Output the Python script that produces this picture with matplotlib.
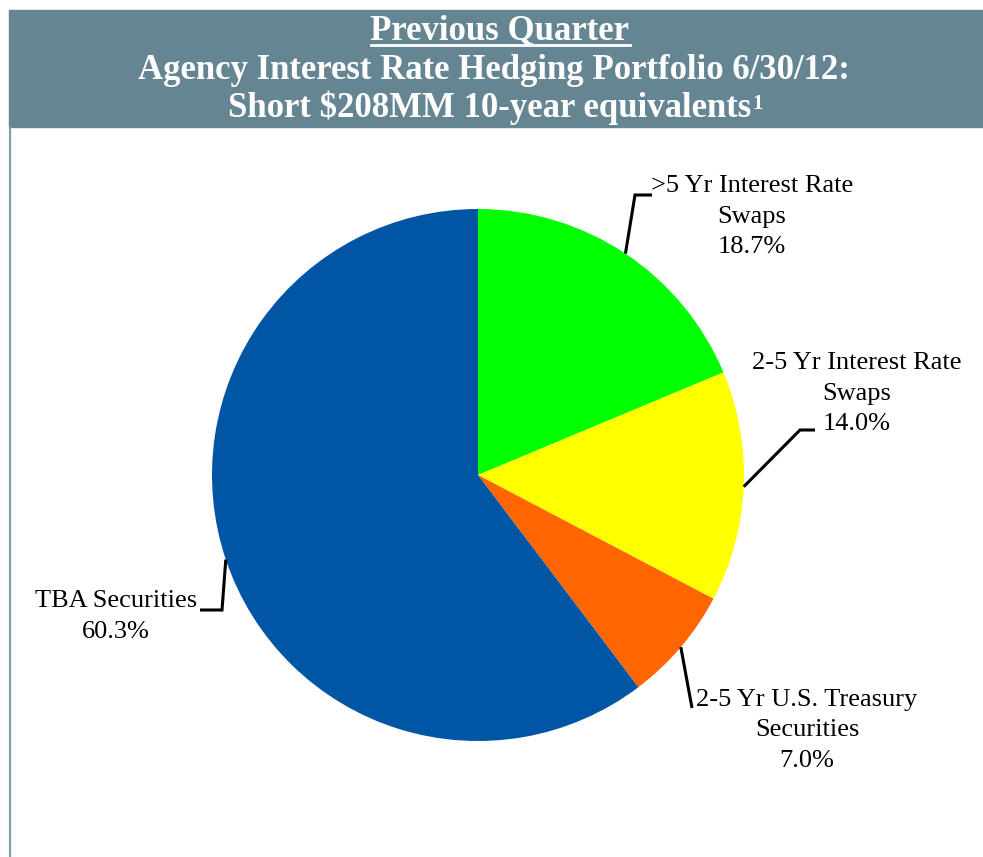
import matplotlib
matplotlib.use("Agg")
import matplotlib.pyplot as plt
from matplotlib.patches import Rectangle
import numpy as np

# ---- data ----
categories = [">5 Yr Interest Rate\nSwaps", "2-5 Yr Interest Rate\nSwaps",
              "2-5 Yr U.S. Treasury\nSecurities", "TBA Securities"]
values = [18.7, 14.0, 7.0, 60.3]
colors = ["#00FF00", "#FFFF00", "#FF6600", "#0055A5"]
title_lines = ["Previous Quarter",
               "Agency Interest Rate Hedging Portfolio 6/30/12:",
               "Short $208MM 10-year equivalents"]

W, H = 983, 857
fig = plt.figure(figsize=(W / 100, H / 100), dpi=100)
ax = fig.add_axes([0, 0, 1, 1])

def py(y):
    return H - y

serif = ["Liberation Serif", "DejaVu Serif"]

# pie
cx, cy, r = 478, py(475), 266
wedges, _ = ax.pie(values, colors=colors, startangle=90, counterclock=False,
                   center=(cx, cy), radius=r, frame=True,
                   wedgeprops=dict(linewidth=0))
ax.set_xlim(0, W)
ax.set_ylim(0, H)
ax.axis("off")

# header band and frame
band_col = "#668593"
ax.add_patch(Rectangle((9, py(127)), W - 9, 117, color=band_col, zorder=0))
ax.plot([10, 10], [py(127), 0], color="#7f9aab", lw=1.5, zorder=0)

tsize = 25
t1 = ax.text(500, py(31), title_lines[0], ha="center", va="center",
             fontsize=tsize, fontweight="bold", color="white", family=serif)
ax.text(494, py(70), title_lines[1], ha="center", va="center",
        fontsize=tsize, fontweight="bold", color="white", family=serif)
t3 = ax.text(490, py(108), title_lines[2], ha="center", va="center",
             fontsize=tsize, fontweight="bold", color="white", family=serif)

# labels: (text center x, first line center y), elbow point, horizontal end
label_pos = [(752, 186), (857, 363), (807, 700), (116, 601)]
elbows = [((635, 195), (652, 195)), ((800, 430), (815, 430)),
          ((692, 708), (692, 708)), ((222, 610), (200, 610))]
line_gap = 30.5
for w, cat, v, (lx, ly), (e1, e2) in zip(wedges, categories, values, label_pos, elbows):
    mid = np.deg2rad((w.theta1 + w.theta2) / 2)
    sx, sy = cx + r * np.cos(mid), cy + r * np.sin(mid)
    ax.plot([sx, e1[0], e2[0]], [sy, py(e1[1]), py(e2[1])], color="black", lw=2.2,
            solid_joinstyle="miter", solid_capstyle="butt")
    lines = cat.split("\n") + [f"{v:.1f}%"]
    for i, s in enumerate(lines):
        ax.text(lx, py(ly + i * line_gap), s, ha="center", va="center",
                fontsize=19, family=serif)

# underline and superscript
fig.canvas.draw()
rend = fig.canvas.get_renderer()
inv = ax.transData.inverted()
bb = t1.get_window_extent(rend)
(x0, y0), (x1, y1) = inv.transform([(bb.x0, bb.y0), (bb.x1, bb.y1)])
ax.plot([x0, x1], [y0 + 3, y0 + 3], color="white", lw=2)
bb3 = t3.get_window_extent(rend)
(a0, b0), (a1, b1) = inv.transform([(bb3.x0, bb3.y0), (bb3.x1, bb3.y1)])
ax.text(a1 + 1, b1 - 3, "1", ha="left", va="top", fontsize=15,
        fontweight="bold", color="white", family=serif)

fig.savefig("out.png", dpi=100)
